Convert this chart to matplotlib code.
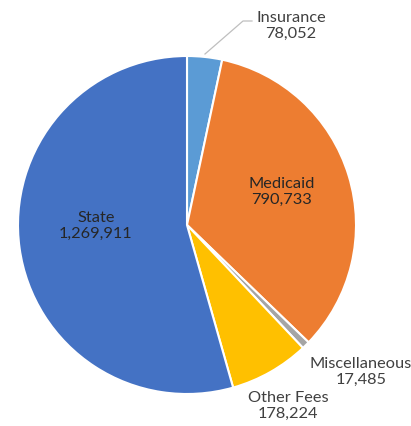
import matplotlib
matplotlib.use("Agg")
import matplotlib.pyplot as plt

categories = ["Insurance", "Medicaid", "Miscellaneous", "Other Fees", "State"]
values = [78052, 790733, 17485, 178224, 1269911]
colors = ["#5B9BD5", "#ED7D31", "#A5A5A5", "#FFC000", "#4472C4"]

W, H = 411, 426
fig = plt.figure(figsize=(W / 100, H / 100), dpi=100)
ax = fig.add_axes([0, 0, 1, 1])

cx, cy, r = 187, H - 225, 169
ax.pie(values, colors=colors, startangle=90, counterclock=False,
       center=(cx, cy), radius=r, frame=True,
       wedgeprops=dict(edgecolor="white", linewidth=1.5))
ax.set_xlim(0, W)
ax.set_ylim(0, H)
ax.set_aspect("equal")
ax.axis("off")

plt.rcParams["font.family"] = ["Lato", "DejaVu Sans"]
fs = 11.8

# label positions in pixel coordinates (x, y from top)
label_pos = {
    "Insurance": (291, 26, "#404040"),
    "Medicaid": (282, 192, "#262626"),
    "Miscellaneous": (361, 372, "#404040"),
    "Other Fees": (288, 406, "#404040"),
    "State": (96, 226, "#262626"),
}
for name, v in zip(categories, values):
    x, y, c = label_pos[name]
    ax.text(x, H - y, "%s\n%s" % (name, format(v, ",")), ha="center", va="center",
            fontsize=fs, color=c, linespacing=1.2)

# leader line for Insurance
ax.plot([205, 243, 252], [H - 54, H - 21, H - 21], color="#BFBFBF", linewidth=0.9)

fig.savefig("out.png", dpi=100, facecolor="white")
